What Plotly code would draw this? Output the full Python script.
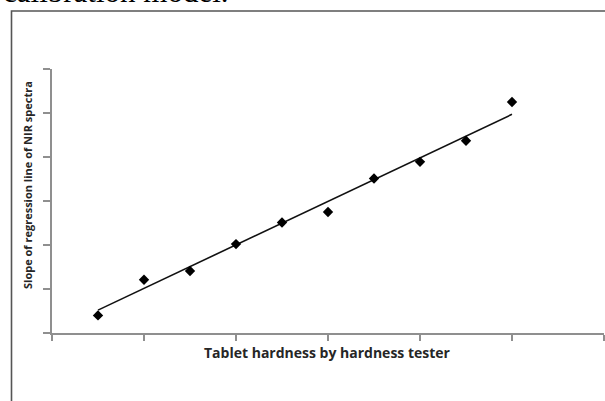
import plotly.graph_objects as go

# Data (axis units, no tick labels shown)
hardness = [1, 2, 3, 4, 5, 6, 7, 8, 9, 10]
slope_values = [0.40, 1.21, 1.41, 2.02, 2.51, 2.75, 3.51, 3.89, 4.37, 5.25]
trend_x = [1, 10]
trend_y = [0.52, 4.97]

x_title = "Tablet hardness by hardness tester"
y_title = "Slope of regression line of NIR spectra"
caption_text = "calibration model."

W, H = 605, 401
L, R, T, B = 52, 1, 69, 68
pw, ph = W - L - R, H - T - B


def px_to_paper_x(px):
    return (px - L) / pw


def px_to_paper_y(py):
    return (H - B - py) / ph


fig = go.Figure()
fig.add_trace(go.Scatter(
    x=trend_x, y=trend_y, mode="lines",
    line=dict(color="#111111", width=1.6),
    showlegend=False, hoverinfo="skip",
))
fig.add_trace(go.Scatter(
    x=hardness, y=slope_values, mode="markers",
    marker=dict(symbol="diamond", size=8, color="#000000"),
    showlegend=False,
))

axis_common = dict(
    showgrid=False, zeroline=False, showline=True,
    linecolor="#8f8f8f", linewidth=1.5,
    ticks="outside", tickcolor="#8f8f8f", tickwidth=1.5,
    showticklabels=False, fixedrange=True,
)

fig.update_xaxes(range=[0, 12], dtick=2, tick0=0, ticklen=6, **axis_common)
fig.update_yaxes(range=[0, 6], dtick=1, tick0=0, ticklen=7, **axis_common)

fig.update_layout(
    width=W, height=H,
    margin=dict(l=L, r=R, t=T, b=B),
    paper_bgcolor="white", plot_bgcolor="white",
    shapes=[dict(
        type="rect", xref="paper", yref="paper",
        x0=px_to_paper_x(11.5), x1=1.05,
        y0=-0.4, y1=px_to_paper_y(11),
        line=dict(color="#555555", width=1.6),
        fillcolor="rgba(0,0,0,0)", layer="below",
    )],
    annotations=[
        dict(text="<b>" + x_title + "</b>", xref="paper", yref="paper",
             x=px_to_paper_x(327.5), y=px_to_paper_y(352),
             xanchor="center", yanchor="middle", showarrow=False,
             font=dict(family="Open Sans", size=14, color="#262626")),
        dict(text="<b>" + y_title + "</b>", xref="paper", yref="paper",
             x=px_to_paper_x(27.5), y=px_to_paper_y(185.5),
             xanchor="center", yanchor="middle", showarrow=False,
             textangle=-90,
             font=dict(family="Open Sans", size=11, color="#262626")),
        dict(text=caption_text, xref="paper", yref="paper",
             x=px_to_paper_x(1), y=px_to_paper_y(11),
             xanchor="left", yanchor="bottom", showarrow=False,
             font=dict(family="Liberation Serif", size=31, color="#000000")),
    ],
)

fig.write_html(
    "out.html",
    config={"displayModeBar": False},
    post_script="document.body.style.margin='0';document.body.style.overflow='hidden';",
)
